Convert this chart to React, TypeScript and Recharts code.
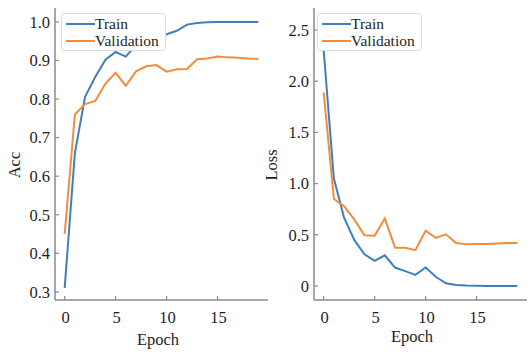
import { LineChart, Line, XAxis, YAxis } from 'recharts';

// epochs 0..19
const epochs = [0, 1, 2, 3, 4, 5, 6, 7, 8, 9, 10, 11, 12, 13, 14, 15, 16, 17, 18, 19];

const accTrain = [0.31, 0.66, 0.806, 0.857, 0.902, 0.922, 0.91, 0.94, 0.955, 0.962, 0.968, 0.977, 0.993, 0.997, 0.999, 1.0, 1.0, 1.0, 1.0, 1.0];
const accVal = [0.45, 0.76, 0.787, 0.795, 0.84, 0.868, 0.834, 0.872, 0.885, 0.888, 0.871, 0.877, 0.878, 0.903, 0.905, 0.91, 0.908, 0.907, 0.905, 0.904];

const lossTrain = [2.3, 1.05, 0.667, 0.45, 0.31, 0.245, 0.3, 0.18, 0.145, 0.108, 0.18, 0.09, 0.026, 0.01, 0.004, 0.002, 0.0, 0.0, 0.0, 0.0];
const lossVal = [1.89, 0.85, 0.78, 0.65, 0.495, 0.49, 0.66, 0.374, 0.374, 0.35, 0.54, 0.47, 0.505, 0.42, 0.407, 0.41, 0.41, 0.415, 0.42, 0.42];

const seriesNames = ['Train', 'Validation'];

const xTicks = [0, 5, 10, 15];
const accTicks = [0.3, 0.4, 0.5, 0.6, 0.7, 0.8, 0.9, 1.0];
const lossTicks = [0, 0.5, 1.0, 1.5, 2.0, 2.5];

const accData = epochs.map((e, i) => ({ epoch: e, train: accTrain[i], val: accVal[i] }));
const lossData = epochs.map((e, i) => ({ epoch: e, train: lossTrain[i], val: lossVal[i] }));

const BLUE = '#3f7fbb';
const ORANGE = '#f58b3c';
const AXIS = '#8a8a8a';
const FONT = "'Times New Roman', 'Liberation Serif', 'DejaVu Serif', serif";
const TEXT = '#1e1e1e';

const YTick = (props: any) => {
  const { x, y, payload, fmt } = props;
  return (
    <g>
      <line x1={x} x2={x + 4} y1={y} y2={y} stroke={AXIS} strokeWidth={1.2} />
      <text x={x - 5} y={y} dy="0.35em" textAnchor="end" style={{ fontFamily: FONT }} fontSize={16.5} fill={TEXT}>
        {fmt(payload.value)}
      </text>
    </g>
  );
};

const XTick = (props: any) => {
  const { x, y, payload } = props;
  return (
    <g>
      <line x1={x} x2={x} y1={y} y2={y - 4} stroke={AXIS} strokeWidth={1.2} />
      <text x={x + 1} y={y + 23} textAnchor="middle" style={{ fontFamily: FONT }} fontSize={16.5} fill={TEXT}>
        {payload.value}
      </text>
    </g>
  );
};

function LegendBox({ left }: { left: number }) {
  const colors = [BLUE, ORANGE];
  return (
    <div
      style={{
        position: 'absolute',
        left,
        top: 13,
        background: '#fff',
        border: '1px solid #dcdcdc',
        borderRadius: 3,
        padding: '2px 6px 1px 4px',
        fontFamily: FONT,
        fontSize: 15.5,
        lineHeight: '16.5px',
        color: TEXT,
      }}
    >
      {seriesNames.map((name, i) => (
        <div key={name} style={{ display: 'flex', alignItems: 'center', height: 16.5 }}>
          <span style={{ display: 'inline-block', width: 29, height: 2, background: colors[i] }} />
          <span>{name}</span>
        </div>
      ))}
    </div>
  );
}

function Panel({ data, domain, ticks, fmt, yLabel, yLabelX, epochX, epochY, legendLeft }: any) {
  return (
    <div style={{ position: 'relative', width: 270, height: 352 }}>
      <LineChart width={270} height={352} data={data} margin={{ top: 8, right: 2, left: 0, bottom: 0 }}>
        <XAxis
          dataKey="epoch"
          type="number"
          domain={[-0.95, 19.95]}
          ticks={xTicks}
          allowDataOverflow
          height={52}
          tickSize={0}
          tickMargin={0}
          tickLine={false}
          axisLine={{ stroke: AXIS, strokeWidth: 1.5 }}
          tick={<XTick />}
          label={{
            content: () => (
              <text x={epochX} y={epochY} textAnchor="middle" style={{ fontFamily: FONT }} fontSize={16.5} fill={TEXT}>
                Epoch
              </text>
            ),
          }}
        />
        <YAxis
          type="number"
          domain={domain}
          ticks={ticks}
          allowDataOverflow
          width={55}
          tickSize={0}
          tickMargin={0}
          tickLine={false}
          axisLine={{ stroke: AXIS, strokeWidth: 1.5 }}
          tick={<YTick fmt={fmt} />}
          label={{
            content: () => (
              <text
                x={yLabelX}
                y={165}
                transform={`rotate(-90 ${yLabelX} 165)`}
                textAnchor="middle"
                style={{ fontFamily: FONT }}
                fontSize={16.5}
                fill={TEXT}
              >
                {yLabel}
              </text>
            ),
          }}
        />
        <Line name={seriesNames[0]} dataKey="train" stroke={BLUE} strokeWidth={2} dot={false} type="linear" isAnimationActive={false} />
        <Line name={seriesNames[1]} dataKey="val" stroke={ORANGE} strokeWidth={2} dot={false} type="linear" isAnimationActive={false} />
      </LineChart>
      <LegendBox left={legendLeft} />
    </div>
  );
}

export default function App() {
  return (
    <div style={{ position: 'absolute', left: 0, top: 0, width: 529, height: 352, background: '#fff' }}>
      <div style={{ position: 'absolute', left: 0, top: 0 }}>
        <Panel
          data={accData}
          domain={[0.279, 1.036]}
          ticks={accTicks}
          fmt={(v: number) => v.toFixed(1)}
          yLabel="Acc"
          yLabelX={20}
          epochX={158}
          epochY={345}
          legendLeft={61}
        />
      </div>
      <div style={{ position: 'absolute', left: 259, top: 0 }}>
        <Panel
          data={lossData}
          domain={[-0.137, 2.715]}
          ticks={lossTicks}
          fmt={(v: number) => (v === 0 ? '0' : v.toFixed(1))}
          yLabel="Loss"
          yLabelX={18}
          epochX={153}
          epochY={342}
          legendLeft={58}
        />
      </div>
    </div>
  );
}
